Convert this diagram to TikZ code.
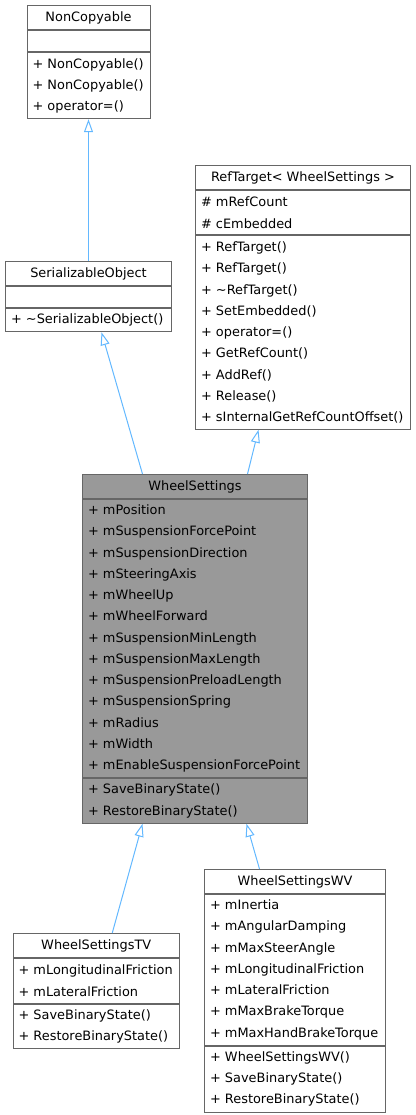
\documentclass[tikz,border=0pt]{standalone}
\usepackage{fontspec}
\setmainfont{DejaVu Sans}
\usetikzlibrary{arrows.meta, positioning}
\definecolor{edgeblue}{HTML}{63B8FF}
\definecolor{boxgray}{HTML}{666666}
\definecolor{mainfill}{HTML}{999999}

\newcommand{\pubm}[1]{\makebox[15pt][l]{+}#1}
\newcommand{\protm}[1]{\makebox[15pt][l]{\#}#1}

\begin{document}
\begin{tikzpicture}[x=1pt, y=1pt,
font=\fontsize{12.9}{21.25}\selectfont,
title_box/.style={draw=boxgray, line width=1pt, fill=white, anchor=north west, inner sep=0pt, minimum height=24pt},
list_box/.style={draw=boxgray, line width=1pt, fill=white, anchor=north west, inner xsep=5.5pt, inner ysep=0pt, align=left, minimum height=#1*21.25pt+2pt},
inherit/.style={draw=edgeblue, line width=1pt, -{Triangle[open, length=13pt, width=9pt, fill=white]}}
]
\useasboundingbox (0,0) rectangle (415,-1115);

% Draw NonCopyable
    \node[title_box, minimum width=123pt] (nc_title) at (26.5,-5) {NonCopyable};
    \node[list_box=1, text width=112pt, minimum height=21.5pt] (nc_attr) at (nc_title.south west) {};
    \node[list_box=3, text width=112pt] (nc_meth) at (nc_attr.south west) {\pubm{NonCopyable()}\\\pubm{NonCopyable()}\\\pubm{operator=()}};

% Draw SerializableObject
    \node[title_box, minimum width=166pt] (so_title) at (5,-261) {SerializableObject};
    \node[list_box=1, text width=155pt, minimum height=21pt] (so_attr) at (so_title.south west) {};
    \node[list_box=1, text width=155pt] (so_meth) at (so_attr.south west) {\pubm{\textasciitilde SerializableObject()}};

% Draw RefTarget
    \node[title_box, minimum width=215pt] (rt_title) at (195,-165) {RefTarget< WheelSettings >};
    \node[list_box=2, text width=204pt] (rt_attr) at (rt_title.south west) {\protm{mRefCount}\\\protm{cEmbedded}};
    \node[list_box=9, text width=204pt] (rt_meth) at (rt_attr.south west) {\pubm{RefTarget()}\\\pubm{RefTarget()}\\\pubm{\textasciitilde RefTarget()}\\\pubm{SetEmbedded()}\\\pubm{operator=()}\\\pubm{GetRefCount()}\\\pubm{AddRef()}\\\pubm{Release()}\\\pubm{sInternalGetRefCountOffset()}};

% Draw WheelSettings
    \node[title_box, minimum width=225pt, fill=mainfill] (ws_title) at (82,-474) {WheelSettings};
    \node[list_box=13, text width=214pt, fill=mainfill] (ws_attr) at (ws_title.south west) {\pubm{mPosition}\\\pubm{mSuspensionForcePoint}\\\pubm{mSuspensionDirection}\\\pubm{mSteeringAxis}\\\pubm{mWheelUp}\\\pubm{mWheelForward}\\\pubm{mSuspensionMinLength}\\\pubm{mSuspensionMaxLength}\\\pubm{mSuspensionPreloadLength}\\\pubm{mSuspensionSpring}\\\pubm{mRadius}\\\pubm{mWidth}\\\pubm{mEnableSuspensionForcePoint}};
    \node[list_box=2, text width=214pt, fill=mainfill] (ws_meth) at (ws_attr.south west) {\pubm{SaveBinaryState()}\\\pubm{RestoreBinaryState()}};

% Draw WheelSettingsTV
    \node[title_box, minimum width=166.5pt] (tv_title) at (12.5,-933) {WheelSettingsTV};
    \node[list_box=2, text width=155.5pt] (tv_attr) at (tv_title.south west) {\pubm{mLongitudinalFriction}\\\pubm{mLateralFriction}};
    \node[list_box=2, text width=155.5pt] (tv_meth) at (tv_attr.south west) {\pubm{SaveBinaryState()}\\\pubm{RestoreBinaryState()}};

% Draw WheelSettingsWV
    \node[title_box, minimum width=181pt] (wv_title) at (204,-869) {WheelSettingsWV};
    \node[list_box=7, text width=170pt] (wv_attr) at (wv_title.south west) {\pubm{mInertia}\\\pubm{mAngularDamping}\\\pubm{mMaxSteerAngle}\\\pubm{mLongitudinalFriction}\\\pubm{mLateralFriction}\\\pubm{mMaxBrakeTorque}\\\pubm{mMaxHandBrakeTorque}};
    \node[list_box=3, text width=170pt] (wv_meth) at (wv_attr.south west) {\pubm{WheelSettingsWV()}\\\pubm{SaveBinaryState()}\\\pubm{RestoreBinaryState()}};

% Draw inheritance arrows
    \draw[inherit] (so_title.north) -- (nc_meth.south);
    \draw[inherit] ([xshift=-52.5pt]ws_title.north) -- ([xshift=13pt]so_meth.south);
    \draw[inherit] ([xshift=52.5pt]ws_title.north) -- ([xshift=-44.5pt]rt_meth.south);
    \draw[inherit] ([xshift=16pt]tv_title.north) -- ([xshift=-52.5pt]ws_meth.south);
    \draw[inherit] ([xshift=-35.5pt]wv_title.north) -- ([xshift=51.5pt]ws_meth.south);
\end{tikzpicture}
\end{document}
